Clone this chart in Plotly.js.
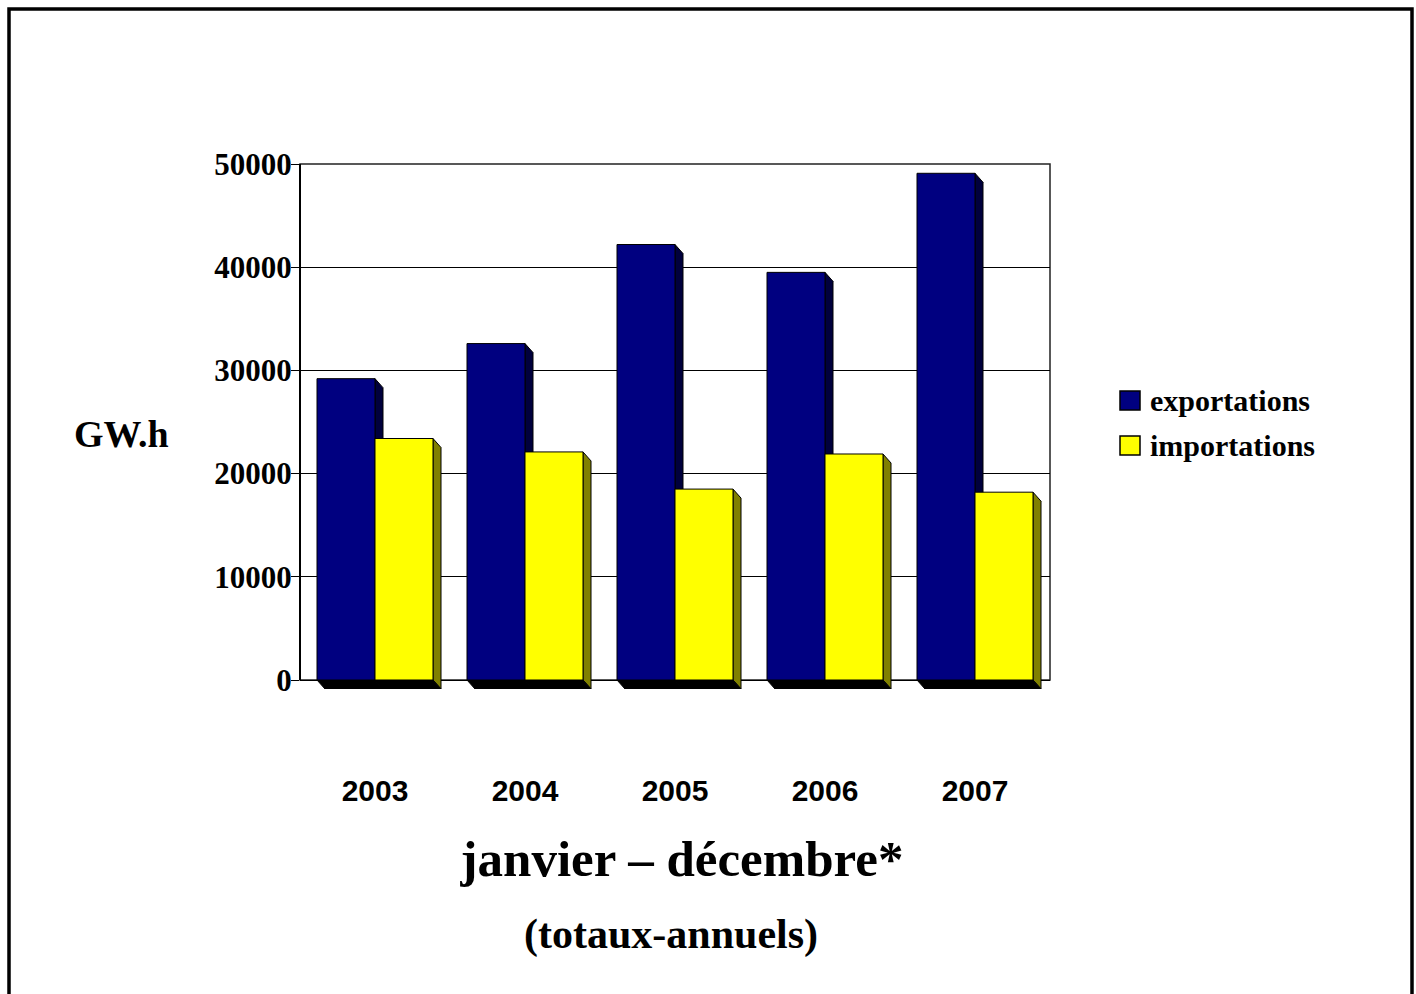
<!DOCTYPE html>
<html>
<head>
<meta charset="utf-8">
<script src="https://cdn.plot.ly/plotly-3.0.1.min.js"></script>
<style>html,body{margin:0;padding:0;background:#fff;}#chart{width:1416px;height:994px;}</style>
</head>
<body>
<div id="chart"></div>
<script>
// ---- data ----
const years = ['2003', '2004', '2005', '2006', '2007'];
const exportations = [29200, 32600, 42200, 39500, 49100];
const importations = [23400, 22100, 18500, 21900, 18200];
const yTickVals = [0, 10000, 20000, 30000, 40000, 50000];
const yTickText = ['0', '10000', '20000', '30000', '40000', '50000'];
const seriesNames = ['exportations', 'importations'];

// ---- layout geometry / style ----
const W = 1416, H = 994;
const M = {l: 300, r: 366, t: 164, b: 305};
const plotW = W - M.l - M.r;
const plotH = H - M.t - M.b;
const yMax = 50000;
const depthX = 8, depthY = 9;              // pseudo-3D depth in px
const unitsPerPx = yMax / (plotH - depthY);
const D = depthY * unitsPerPx;             // depth in data units
const yMin = -D;
const xMin = -0.5, xMax = years.length - 0.5;
const pxPerX = plotW / (xMax - xMin);
const barW = 58 / pxPerX;                  // bar width in x units

const frontColors = ['#000080', '#FFFF00'];
const sideColors = ['#00003C', '#808000'];
const serif = 'Liberation Serif, Times New Roman, serif';
const sans = 'Liberation Sans, Arial, sans-serif';

const xIdx = years.map((_, i) => i);
const series = [exportations, importations];
const offsets = [-barW, 0];

const traces = series.map((vals, s) => ({
  type: 'bar',
  name: seriesNames[s],
  x: xIdx,
  y: vals,
  offset: offsets[s],
  width: barW,
  marker: {color: frontColors[s], line: {color: '#000', width: 1}},
  showlegend: false,
  hoverinfo: 'x+y+name'
}));

const yPaper = v => (v - yMin) / (yMax - yMin);

const shapes = [];
// frame of plot area
shapes.push({type: 'rect', xref: 'paper', yref: 'paper', x0: 0, x1: 1, y0: yPaper(0), y1: 1,
  line: {color: '#222', width: 1.5}, layer: 'below'});
shapes.push({type: 'line', xref: 'paper', yref: 'paper', x0: 0, x1: 0, y0: yPaper(0), y1: 1,
  line: {color: '#000', width: 2}, layer: 'below'});
// outer border
shapes.push({type: 'rect', xref: 'paper', yref: 'paper',
  x0: (9 - M.l) / plotW, x1: (1412 - M.l) / plotW,
  y0: (M.t + plotH - 1010) / plotH, y1: (M.t + plotH - 9) / plotH,
  line: {color: '#000', width: 3.5}, fillcolor: 'rgba(0,0,0,0)', layer: 'below'});

// pseudo-3D faces computed from the data
series.forEach((vals, s) => {
  vals.forEach((v, i) => {
    const left = i + offsets[s];
    const right = left + barW;
    const bwPx = barW * pxPerX;
    // side face
    shapes.push({type: 'path', xref: 'x', yref: 'y', xsizemode: 'pixel', xanchor: right,
      path: `M0,${v} L${depthX},${v - D} L${depthX},${-D} L0,0 Z`,
      fillcolor: sideColors[s], line: {color: '#000', width: 1}, layer: 'between'});
    // bottom face
    shapes.push({type: 'path', xref: 'x', yref: 'y', xsizemode: 'pixel', xanchor: left,
      path: `M0,0 L${bwPx},0 L${bwPx + depthX},${-D} L${depthX},${-D} Z`,
      fillcolor: '#000', line: {color: '#000', width: 1}, layer: 'between'});
  });
});

// custom legend swatches
const legY = [[391, 410], [436, 455]];
const legX0 = (1120 - M.l) / plotW, legX1 = (1140 - M.l) / plotW;
const toPy = py => (M.t + plotH - py) / plotH;
seriesNames.forEach((n, s) => {
  shapes.push({type: 'rect', xref: 'paper', yref: 'paper', x0: legX0, x1: legX1,
    y0: toPy(legY[s][1]), y1: toPy(legY[s][0]),
    fillcolor: frontColors[s], line: {color: '#000', width: 1.5}});
});

const annotations = seriesNames.map((n, s) => ({
  xref: 'paper', yref: 'paper', x: (1148 - M.l) / plotW, y: toPy((legY[s][0] + legY[s][1]) / 2),
  xanchor: 'left', yanchor: 'middle', showarrow: false, text: n,
  font: {family: serif, size: 30, color: '#000', weight: 'bold'}
}));
annotations.push({xref: 'paper', yref: 'paper', x: (121 - M.l) / plotW, y: toPy(434),
  xanchor: 'center', yanchor: 'middle', showarrow: false, text: 'GW.h',
  font: {family: serif, size: 38, color: '#000', weight: 'bold'}});
annotations.push({xref: 'paper', yref: 'paper', x: (671 - M.l) / plotW, y: toPy(934),
  xanchor: 'center', yanchor: 'middle', showarrow: false, text: '(totaux-annuels)',
  font: {family: serif, size: 42, color: '#000', weight: 'bold'}});

const layout = {
  width: W, height: H,
  margin: M,
  paper_bgcolor: '#fff',
  plot_bgcolor: 'rgba(0,0,0,0)',
  barmode: 'overlay',
  showlegend: false,
  title: {text: 'janvier – décembre*', x: 682 / W, y: 1 - 858 / H, xanchor: 'center', yanchor: 'middle',
    xref: 'container', yref: 'container',
    font: {family: serif, size: 51, color: '#000', weight: 'bold'}},
  xaxis: {
    range: [xMin, xMax], tickvals: xIdx, ticktext: years,
    showgrid: false, zeroline: false, showline: false, ticks: '',
    ticklabelstandoff: 81,
    tickfont: {family: sans, size: 30, color: '#000', weight: 'bold'}
  },
  yaxis: {
    range: [yMin, yMax], tickvals: yTickVals, ticktext: yTickText,
    showgrid: true, gridcolor: '#000', gridwidth: 1, zeroline: false, showline: false,
    ticks: 'outside', ticklen: 8, tickcolor: '#000', tickwidth: 1,
    ticklabelstandoff: -7,
    tickfont: {family: serif, size: 31, color: '#000', weight: 'bold'}
  },
  shapes: shapes,
  annotations: annotations
};

Plotly.newPlot('chart', traces, layout, {displayModeBar: false, staticPlot: true});
</script>
</body>
</html>
